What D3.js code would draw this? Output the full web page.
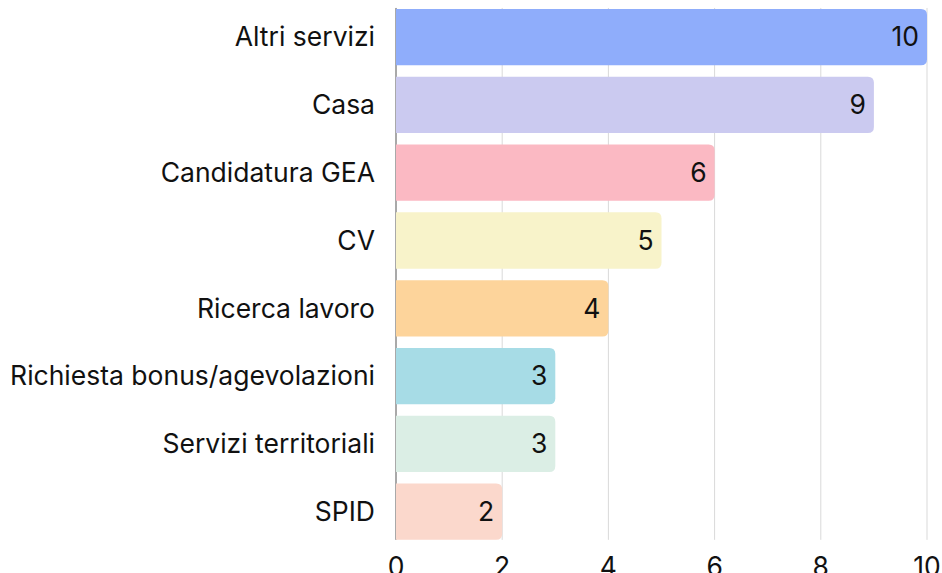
<!DOCTYPE html>
<html>
<head>
<meta charset="utf-8">
<script src="https://cdn.jsdelivr.net/npm/d3@7"></script>
<style>
  html, body { margin: 0; padding: 0; background: #fff; }
  svg { display: block; font-family: Inter, "Noto Sans", sans-serif; }
</style>
</head>
<body>
<svg id="chart" width="942" height="573"></svg>
<script>
const categories = ["Altri servizi", "Casa", "Candidatura GEA", "CV", "Ricerca lavoro",
  "Richiesta bonus/agevolazioni", "Servizi territoriali", "SPID"];
const values = [10, 9, 6, 5, 4, 3, 3, 2];
const colors = ["#8fadfb", "#cbcaf0", "#fbb9c3", "#f8f3ca", "#fdd49b", "#a7dce6", "#dbeee5", "#fbd8cc"];
const xTicks = [0, 2, 4, 6, 8, 10];

const svg = d3.select("#chart");
const margin = { top: 3.2, left: 396, right: 15 };
const width = 942;
const fontSize = 26.5;

const x = d3.scaleLinear().domain([0, 10]).range([margin.left, width - margin.right]);
const y = d3.scaleBand().domain(categories).range([margin.top, margin.top + 8 * 67.8])
  .paddingInner(0.17).paddingOuter(0.085);

const gridTop = y(categories[0]) - 1;
const gridBottom = y(categories[categories.length - 1]) + y.bandwidth();

// grid lines
svg.append("g")
  .selectAll("line")
  .data(xTicks)
  .join("line")
  .attr("x1", d => x(d)).attr("x2", d => x(d))
  .attr("y1", gridTop).attr("y2", gridBottom)
  .attr("stroke", "#d9d9d9").attr("stroke-width", 1);

// left axis line
svg.append("line")
  .attr("x1", x(0)).attr("x2", x(0))
  .attr("y1", gridTop).attr("y2", gridBottom)
  .attr("stroke", "#666").attr("stroke-width", 1);

// bars: rounded on the right only
const r = 6;
function barPath(d, i) {
  const x0 = x(0), x1 = x(d), y0 = y(categories[i]), h = y.bandwidth();
  return `M${x0},${y0}H${x1 - r}Q${x1},${y0} ${x1},${y0 + r}V${y0 + h - r}Q${x1},${y0 + h} ${x1 - r},${y0 + h}H${x0}Z`;
}
svg.append("g")
  .selectAll("path")
  .data(values)
  .join("path")
  .attr("d", barPath)
  .attr("fill", (d, i) => colors[i]);

// value labels
svg.append("g")
  .selectAll("text")
  .data(values)
  .join("text")
  .attr("x", d => x(d) - 8)
  .attr("y", (d, i) => y(categories[i]) + y.bandwidth() / 2)
  .attr("dy", "0.35em")
  .attr("text-anchor", "end")
  .attr("font-size", fontSize)
  .attr("fill", "#111")
  .text(d => d);

// category labels
svg.append("g")
  .selectAll("text")
  .data(categories)
  .join("text")
  .attr("x", x(0) - 21)
  .attr("y", d => y(d) + y.bandwidth() / 2)
  .attr("dy", "0.35em")
  .attr("text-anchor", "end")
  .attr("font-size", fontSize)
  .attr("fill", "#111")
  .text(d => d);

// x axis tick labels (partly below the frame, as in the original)
svg.append("g")
  .selectAll("text")
  .data(xTicks)
  .join("text")
  .attr("x", d => x(d))
  .attr("y", gridBottom + 36)
  .attr("text-anchor", "middle")
  .attr("font-size", fontSize)
  .attr("fill", "#111")
  .text(d => d);
</script>
</body>
</html>
